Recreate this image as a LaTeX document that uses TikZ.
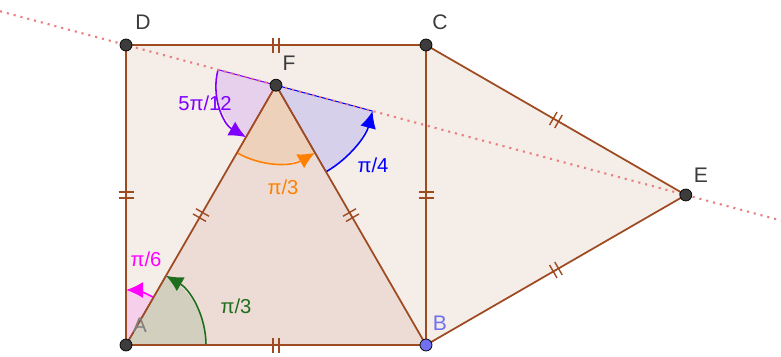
\documentclass[tikz,border=0pt]{standalone}
\usepackage{fontspec}
\setmainfont{Liberation Sans}
\usetikzlibrary{arrows.meta, calc, decorations.markings}
\definecolor{segbrown}{HTML}{9E4B22}
\definecolor{linered}{HTML}{E88080}
\definecolor{anggreen}{HTML}{1E6E1E}
\definecolor{angpink}{HTML}{FF00FF}
\definecolor{angviolet}{HTML}{7F00FF}
\definecolor{angorange}{HTML}{FF8000}
\definecolor{angblue}{HTML}{0000FF}
\definecolor{ptgray}{HTML}{3C3C3C}
\definecolor{ptblue}{HTML}{7070F0}
\newcommand{\angmark}[5]{%
  \fill[#5, fill opacity=0.12] (#1) -- ++(#2:#4) arc (#2:#3:#4) -- cycle;
  \draw[#5, line width=0.6pt] (#1) -- ++(#2:#4) (#1) -- ++(#3:#4);
  \draw[#5, line width=0.9pt, -{Latex[length=3.4mm,width=3.2mm]}]
    (#1) ++(#2:#4) arc (#2:#3:#4);}
\tikzset{
  seg/.style={segbrown, line width=1pt},
  eqtick/.style={postaction={decorate, decoration={markings,
    mark=at position 0.5 with {\draw[segbrown, line width=0.8pt]
      (-0.06,-0.15) -- (-0.06,0.15) (0.06,-0.15) -- (0.06,0.15);}}}},
  pt/.style={circle, fill=ptgray, draw=black, line width=0.4pt,
    inner sep=0pt, minimum size=2.4mm},
  ptlabel/.style={text=ptgray, font=\fontsize{12}{14}\selectfont},
  anglabel/.style={font=\fontsize{11.5}{13}\selectfont}
}

\begin{document}
\begin{tikzpicture}
  \useasboundingbox (-2.52,-0.22) rectangle (13.1,6.9);
  \coordinate (A) at (0,0);
  \coordinate (B) at (6,0);
  \coordinate (C) at (6,6);
  \coordinate (D) at (0,6);
  \coordinate (F) at (3,5.196);
  \coordinate (E) at (11.196,3);
  \coordinate (L0) at ($(D)!-0.225!(E)$);
  \coordinate (L1) at ($(D)!1.17!(E)$);

  \fill[segbrown, fill opacity=0.1] (A) -- (B) -- (C) -- (D) -- cycle;
  \fill[segbrown, fill opacity=0.1] (A) -- (B) -- (F) -- cycle;
  \fill[segbrown, fill opacity=0.1] (B) -- (E) -- (C) -- cycle;

  \angmark{A}{0}{60}{1.6}{anggreen}
  \angmark{A}{60}{90}{1.1}{angpink}
  \angmark{F}{165}{240}{1.2}{angviolet}
  \angmark{F}{240}{300}{1.56}{angorange}
  \angmark{F}{300}{345}{2}{angblue}

  \draw[linered, line width=1.2pt, dash pattern=on 1.2pt off 2.8pt] (L0) -- (L1);

  \draw[seg, eqtick] (A) -- (B);
  \draw[seg, eqtick] (B) -- (C);
  \draw[seg, eqtick] (C) -- (D);
  \draw[seg, eqtick] (D) -- (A);
  \draw[seg, eqtick] (A) -- (F);
  \draw[seg, eqtick] (F) -- (B);
  \draw[seg, eqtick] (C) -- (E);
  \draw[seg, eqtick] (E) -- (B);

  \node[anglabel, text=anggreen] (lA1) at (2.2,0.78) {π/3};
  \node[anglabel, text=angpink] (lA2) at (0.4,1.72) {π/6};
  \node[anglabel, text=angviolet] (lF1) at (1.58,4.84) {5π/12};
  \node[anglabel, text=angorange] (lF2) at (3.14,3.16) {π/3};
  \node[anglabel, text=angblue] (lF3) at (4.94,3.6) {π/4};

  \node[ptlabel, text=gray] (nA) at (0.28,0.4) {A};
  \node[ptlabel, text=ptblue] (nB) at (6.28,0.44) {B};
  \node[ptlabel] (nC) at (6.28,6.46) {C};
  \node[ptlabel] (nD) at (0.34,6.46) {D};
  \node[ptlabel] (nE) at (11.5,3.4) {E};
  \node[ptlabel] (nF) at (3.26,5.64) {F};

  \node[pt] (pA) at (A) {};
  \node[pt, fill=ptblue] (pB) at (B) {};
  \node[pt] (pC) at (C) {};
  \node[pt] (pD) at (D) {};
  \node[pt] (pE) at (E) {};
  \node[pt] (pF) at (F) {};
\end{tikzpicture}
\end{document}
